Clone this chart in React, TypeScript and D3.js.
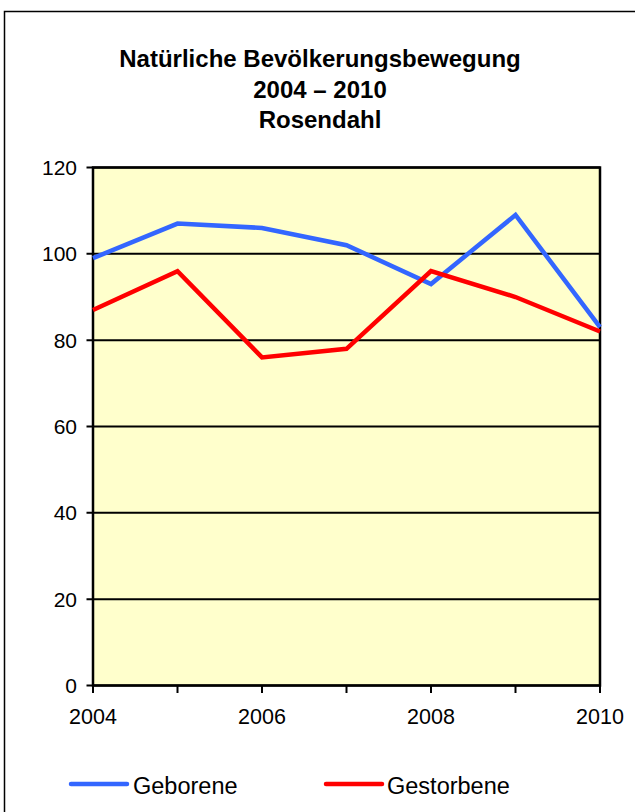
import React from 'react'
import * as d3 from 'd3'

const years = [2004, 2005, 2006, 2007, 2008, 2009, 2010]
const geborene = [99, 107, 106, 102, 93, 109, 83]
const gestorbene = [87, 96, 76, 78, 96, 90, 82]
const yTicks = [0, 20, 40, 60, 80, 100, 120]
const xLabels = [2004, 2006, 2008, 2010]
const titleLines = ['Natürliche Bevölkerungsbewegung', '2004 – 2010', 'Rosendahl']

const W = 635
const H = 812
const left = 93, right = 600, top = 167.5, bottom = 685.5

export default function App() {
  const x = d3.scaleLinear().domain([2004, 2010]).range([left, right])
  const y = d3.scaleLinear().domain([0, 120]).range([bottom, top])

  const line = d3.line<number>()
    .x((d, i) => x(years[i]))
    .y(d => y(d))

  const font = 'Arial, "Liberation Sans", sans-serif'

  return (
    <svg width={W} height={H} style={{ position: 'absolute', left: 0, top: 0, background: '#fff' }}>
      {/* outer frame, runs off the right and bottom edges */}
      <rect x={4.5} y={11.5} width={W + 10} height={H + 10} fill="none" stroke="#000" strokeWidth={1.5} />

      {/* title */}
      {titleLines.map((t, i) => (
        <text key={t} x={320} y={67 + i * 30.5} textAnchor="middle"
          fontFamily={font} fontWeight="bold" fontSize={24} fill="#000">{t}</text>
      ))}

      {/* plot background */}
      <rect x={left} y={top} width={right - left} height={bottom - top} fill="#FFFFCC" />

      {/* gridlines */}
      {yTicks.map(v => (
        <line key={v} x1={left - 6.5} x2={right} y1={y(v)} y2={y(v)} stroke="#000" strokeWidth={2} />
      ))}
      {yTicks.map(v => (
        <text key={'l' + v} x={77} y={y(v) + 7.5} textAnchor="end"
          fontFamily={font} fontSize={21} fill="#000">{v}</text>
      ))}

      {/* plot border */}
      <rect x={left} y={top} width={right - left} height={bottom - top} fill="none" stroke="#000" strokeWidth={2.5} />

      {/* x ticks */}
      {years.map(yr => (
        <line key={yr} x1={x(yr)} x2={x(yr)} y1={bottom} y2={bottom + 7.5} stroke="#000" strokeWidth={2} />
      ))}
      {xLabels.map(yr => (
        <text key={'x' + yr} x={x(yr)} y={723.5} textAnchor="middle"
          fontFamily={font} fontSize={21.5} fill="#000">{yr}</text>
      ))}

      {/* series */}
      <path d={line(geborene) || ''} fill="none" stroke="#3366FF" strokeWidth={4.5} />
      <path d={line(gestorbene) || ''} fill="none" stroke="#FF0000" strokeWidth={4.5} />

      {/* legend */}
      <line x1={71} x2={127} y1={784} y2={784} stroke="#3366FF" strokeWidth={4.5} strokeLinecap="round" />
      <text x={133} y={794} fontFamily={font} fontSize={23.5} fill="#000">Geborene</text>
      <line x1={326} x2={382} y1={784} y2={784} stroke="#FF0000" strokeWidth={4.5} strokeLinecap="round" />
      <text x={387} y={794} fontFamily={font} fontSize={23.5} fill="#000">Gestorbene</text>
    </svg>
  )
}
